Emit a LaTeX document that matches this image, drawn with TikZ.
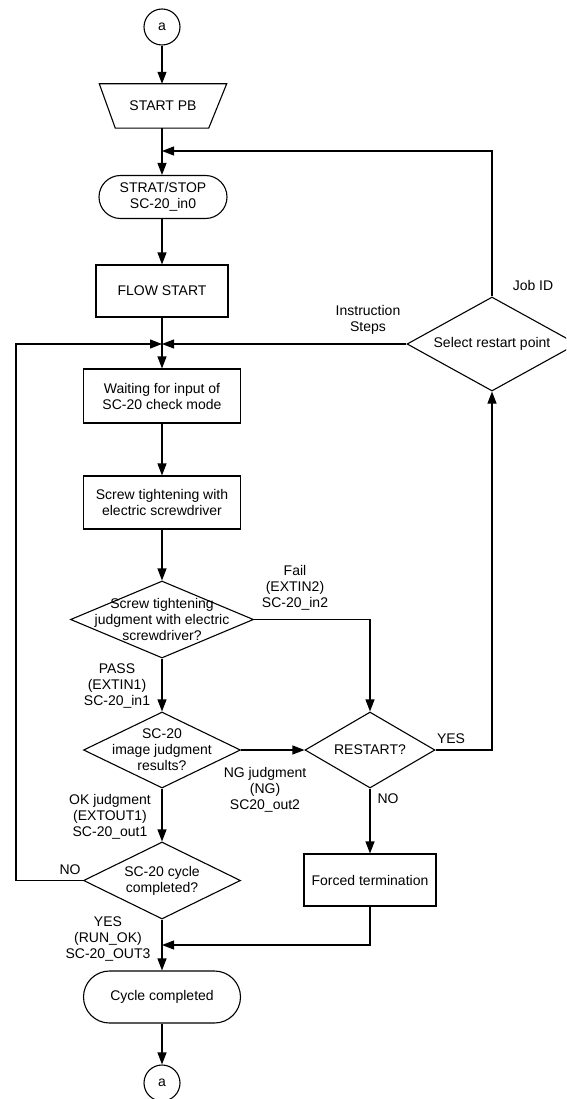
\documentclass[tikz,border=0pt]{standalone}
\usepackage{fontspec}
\setmainfont{Liberation Sans}
\usetikzlibrary{shapes.geometric,arrows.meta}
\begin{document}
\begin{tikzpicture}[x=1pt,y=-1pt,
  lbl/.style={font=\fontsize{14}{16}\selectfont, align=center, inner sep=0pt},
  shp/.style={lbl, draw, line width=1.1pt},
  box/.style={shp, rectangle},
  dia/.style={shp, diamond},
  arr/.style={line width=1.1pt, -{Triangle[length=12pt,width=9pt]}}]
\useasboundingbox (0,0) rectangle (566,1099);
\clip (0,0) rectangle (566,1099);
% shapes
\node[shp, circle, minimum size=36pt] (a1) at (162,27) {a};
\node[lbl, rectangle, minimum width=127pt, minimum height=44pt] (spb) at (163,106) {START PB};
\draw[line width=1.1pt, line join=miter] (spb.north west) -- (spb.north east)
   -- ([xshift=-18pt]spb.south east) -- ([xshift=16pt]spb.south west) -- cycle;
\node[box, rounded corners=21.5pt, minimum width=128pt, minimum height=43pt] (ss) at (163,197) {STRAT/STOP\\SC-20\_in0};
\node[box, minimum width=132pt, minimum height=52pt] (fs) at (162,291) {FLOW START};
\node[box, minimum width=157pt, minimum height=54pt] (wt) at (162,396) {Waiting for input of\\SC-20 check mode};
\node[box, minimum width=157pt, minimum height=53pt] (sc) at (162,502.5) {Screw tightening with\\electric screwdriver};
\node[dia, minimum width=183pt, minimum height=77pt] (d1) at (162,619.5) {};
\node[lbl] (d1t) at (d1.center) {Screw tightening\\judgment with electric\\screwdriver?};
\node[dia, minimum width=157pt, minimum height=76pt] (d2) at (162,750) {};
\node[lbl] (d2t) at (d2.center) {SC-20\\image judgment\\results?};
\node[dia, minimum width=157pt, minimum height=77pt] (d3) at (162,880.5) {};
\node[lbl] (d3t) at (d3.center) {SC-20 cycle\\completed?};
\node[dia, minimum width=130pt, minimum height=76pt] (rs) at (370,750) {};
\node[lbl] (rst) at (rs.center) {RESTART?};
\node[dia, minimum width=170pt, minimum height=94pt] (sel) at (492,344) {};
\node[lbl] (selt) at (sel.center) {Select restart point};
\node[box, minimum width=132pt, minimum height=52pt] (ft) at (370,880) {Forced termination};
\node[box, rounded corners=26pt, minimum width=157pt, minimum height=52pt] (cy) at (162,997) {Cycle completed};
\node[shp, circle, minimum size=36pt] (a2) at (162,1083) {a};
% junction points
\coordinate (j1) at (162,151);
\coordinate (j2) at (162,344);
\coordinate (j3) at (162,945);
\coordinate (lc) at (16,344);
% connectors
\draw[arr] (a1.south) -- (a1.south |- spb.north);
\draw[arr] (spb.south -| a1.south) -- (ss.north -| a1.south);
\draw[arr] (sel.north) |- (j1);
\draw[arr] (ss.south -| a1.south) -- (fs.north);
\draw[arr] (fs.south) -- (wt.north);
\draw[arr] (sel.west) -- (j2);
\draw[arr] (d3.west) -| (lc) -- (j2);
\draw[arr] (wt.south) -- (sc.north);
\draw[arr] (sc.south) -- (d1.north);
\draw[arr] (d1.east) -| (rs.north);
\draw[arr] (d1.south) -- (d2.north);
\draw[arr] (d2.east) -- (rs.west);
\draw[arr] (d2.south) -- (d3.north);
\draw[arr] (rs.east) -| (sel.south);
\draw[arr] (rs.south) -- (ft.north);
\draw[arr] (ft.south) |- (j3);
\draw[arr] (d3.south) -- (cy.north);
\draw[arr] (cy.south) -- (a2.north);
% labels
\node[lbl] (lInst) at (368,320) {Instruction\\Steps};
\node[lbl] (lJob) at (533,285) {Job ID};
\node[lbl] (lFail) at (295,588) {Fail\\(EXTIN2)\\SC-20\_in2};
\node[lbl] (lPass) at (117,686) {PASS\\(EXTIN1)\\SC-20\_in1};
\node[lbl] (lOK) at (110,817) {OK judgment\\(EXTOUT1)\\SC-20\_out1};
\node[lbl] (lNG) at (265,790) {NG judgment\\(NG)\\SC20\_out2};
\node[lbl] (lYes1) at (451,739) {YES};
\node[lbl] (lNo1) at (388,799) {NO};
\node[lbl] (lNo2) at (70,870) {NO};
\node[lbl] (lYes2) at (108,939) {YES\\(RUN\_OK)\\SC-20\_OUT3};
\end{tikzpicture}
\end{document}
